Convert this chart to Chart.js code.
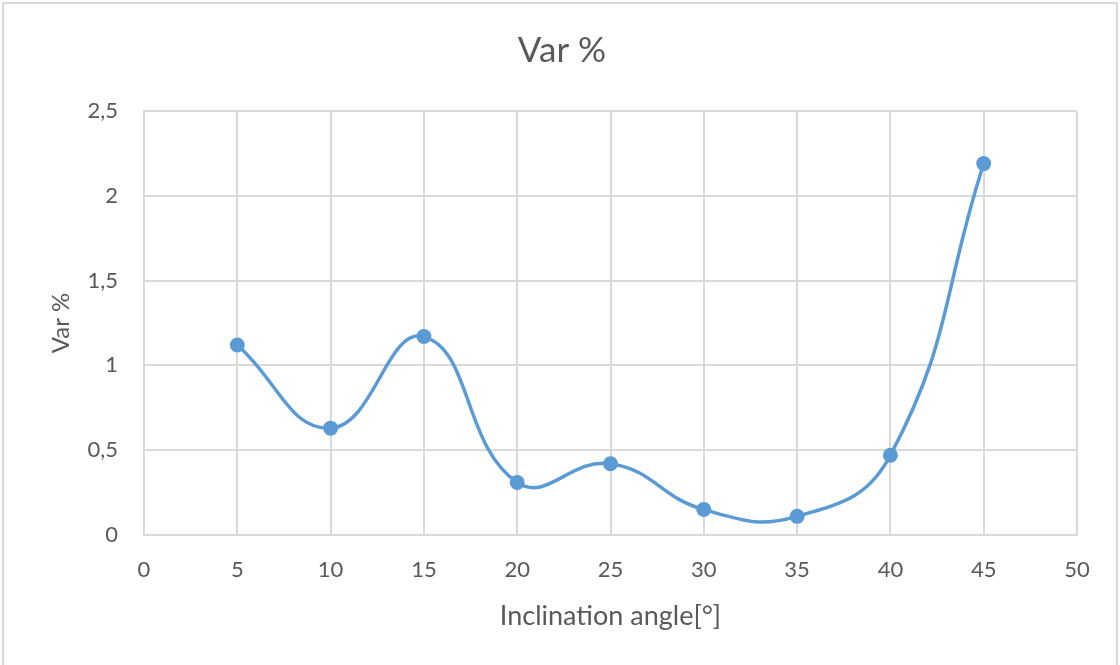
<!DOCTYPE html>
<html>
<head>
<meta charset="utf-8">
<script src="https://cdn.jsdelivr.net/npm/chart.js@4"></script>
<style>
html,body{margin:0;padding:0;background:#fff;}
#wrap{position:absolute;left:0;top:0;width:1120px;height:665px;}
</style>
</head>
<body>
<div id="wrap"><canvas id="c" width="1120" height="665"></canvas></div>
<script>
const angles = [5, 10, 15, 20, 25, 30, 35, 40, 45];
const varPct = [1.12, 0.63, 1.17, 0.31, 0.42, 0.15, 0.11, 0.47, 2.19];
const yTickLabels = {0: '0', 0.5: '0,5', 1: '1', 1.5: '1,5', 2: '2', 2.5: '2,5'};

const FONT = 'Lato, "Open Sans", sans-serif';
const TXT = '#595959';
const GRID = '#d9d9d9';

const frame = {
  id: 'frame',
  beforeDraw(chart) {
    const ctx = chart.ctx;
    ctx.save();
    ctx.fillStyle = '#fff';
    ctx.fillRect(0, 0, chart.width, chart.height);
    ctx.strokeStyle = '#d9d9d9';
    ctx.lineWidth = 2;
    ctx.strokeRect(3, 3, chart.width - 6, chart.height + 10);
    ctx.restore();
  }
};

new Chart(document.getElementById('c'), {
  type: 'scatter',
  data: {
    datasets: [{
      data: angles.map((a, i) => ({x: a, y: varPct[i]})),
      showLine: true,
      borderColor: '#5b9bd5',
      backgroundColor: '#5b9bd5',
      borderWidth: 3.5,
      pointRadius: 7.5,
      pointHoverRadius: 7.5,
      pointBorderWidth: 0,
      tension: 0.45
    }]
  },
  plugins: [frame],
  options: {
    responsive: false,
    animation: false,
    layout: {padding: {left: 47, right: 43, top: 0, bottom: 33}},
    plugins: {
      legend: {display: false},
      tooltip: {enabled: false},
      title: {
        display: true,
        text: 'Var %',
        color: TXT,
        font: {family: FONT, size: 35, weight: 'normal'},
        padding: {top: 30, bottom: 39}
      }
    },
    scales: {
      x: {
        type: 'linear',
        min: 0, max: 50,
        ticks: {stepSize: 5, color: TXT, font: {family: FONT, size: 22}, padding: 22},
        grid: {color: GRID, lineWidth: 2, drawTicks: false},
        border: {color: GRID, width: 2},
        title: {display: true, text: 'Inclination angle[°]', color: TXT,
                font: {family: FONT, size: 27}, padding: 0},
        afterFit(s) { s.height = 97; }
      },
      y: {
        min: 0, max: 2.5,
        ticks: {stepSize: 0.5, color: TXT, font: {family: FONT, size: 22}, padding: 26,
                callback: v => yTickLabels[v] !== undefined ? yTickLabels[v] : ''},
        grid: {color: GRID, lineWidth: 2, drawTicks: false},
        border: {color: GRID, width: 2},
        title: {display: true, text: 'Var %', color: TXT,
                font: {family: FONT, size: 24}, padding: 0},
        afterFit(s) { s.width = 97; }
      }
    }
  }
});
</script>
</body>
</html>
